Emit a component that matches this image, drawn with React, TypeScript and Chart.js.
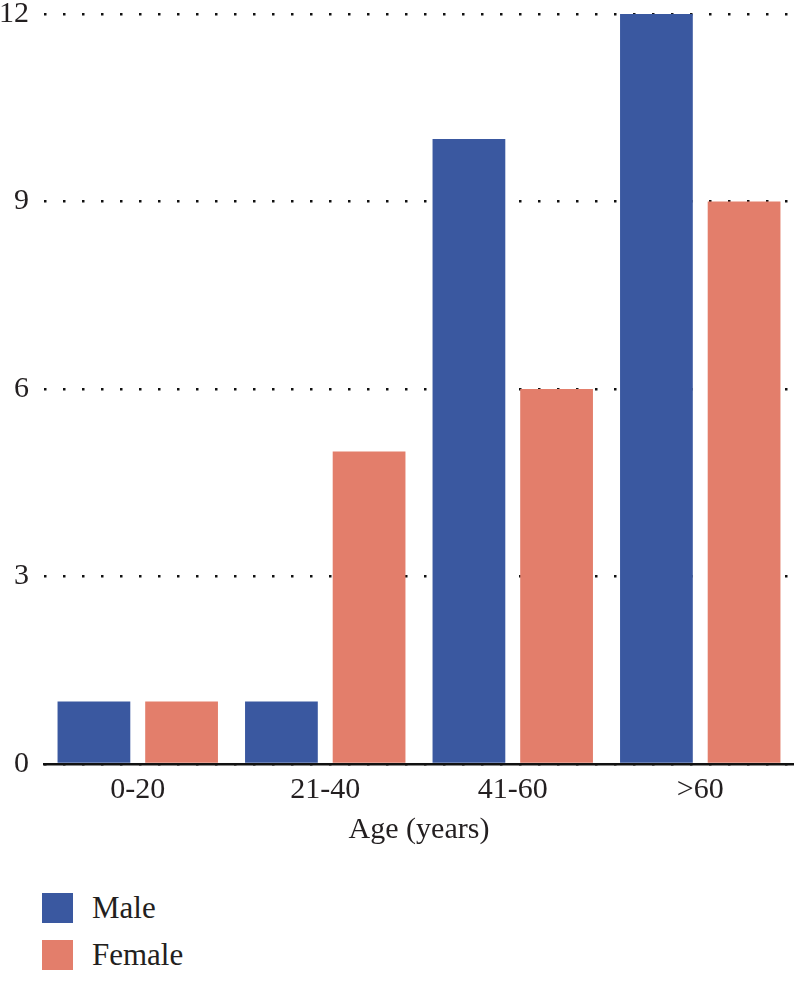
import React, { useEffect, useRef } from "react";
import { Chart, registerables } from "chart.js";

Chart.register(...registerables);

const categories = ["0-20", "21-40", "41-60", ">60"];
const maleValues = [1, 1, 10, 12];
const femaleValues = [1, 5, 6, 9];
const yTicks = [0, 3, 6, 9, 12];
const seriesNames = ["Male", "Female"];
const seriesColors = ["#3A58A0", "#E37E6B"];
const xTitle = "Age (years)";

const FONT = "'Liberation Serif', 'DejaVu Serif', serif";
const TEXT = "#231F20";

export default function App() {
  const ref = useRef<HTMLCanvasElement | null>(null);

  useEffect(() => {
    if (!ref.current) return;
    const chart = new Chart(ref.current, {
      type: "bar",
      data: {
        labels: categories,
        datasets: [
          { label: seriesNames[0], data: maleValues, backgroundColor: seriesColors[0] },
          { label: seriesNames[1], data: femaleValues, backgroundColor: seriesColors[1] },
        ],
      },
      options: {
        responsive: false,
        animation: false,
        devicePixelRatio: 1,
        layout: { padding: { top: 0, right: 0, left: 0, bottom: 0 } },
        datasets: { bar: { categoryPercentage: 0.935, barPercentage: 0.83 } },
        plugins: { legend: { display: false }, tooltip: { enabled: false } },
        scales: {
          x: {
            grid: { display: false, drawTicks: false },
            border: { display: true, color: "#111", width: 2.5 },
            ticks: { color: TEXT, font: { family: FONT, size: 30 }, padding: 8 },
            title: {
              display: true,
              text: xTitle,
              color: TEXT,
              font: { family: FONT, size: 30 },
              padding: { top: 0, bottom: 12 },
            },
            afterFit: (s: any) => {
              s.height = 96;
            },
          },
          y: {
            min: 0,
            max: 12,
            afterBuildTicks: (s: any) => {
              s.ticks = yTicks.map((v) => ({ value: v }));
            },
            grid: {
              drawTicks: false,
              color: "#111",
              lineWidth: 2.5,
            },
            border: { display: false, dash: [2.5, 16.5] },
            ticks: { color: TEXT, font: { family: FONT, size: 30 }, padding: 15 },
            afterFit: (s: any) => {
              s.width = 44;
              s.paddingTop = 14;
              s.paddingBottom = 0;
            },
          },
        },
      },
    } as any);
    return () => chart.destroy();
  }, []);

  return (
    <div style={{ position: "absolute", left: 0, top: 0, width: 794, height: 1000, background: "#fff" }}>
      <canvas ref={ref} width={794} height={860} style={{ display: "block" }} />
      <div style={{ position: "absolute", left: 42, top: 884, fontFamily: FONT, fontSize: 31, color: TEXT }}>
        {seriesNames.map((n, i) => (
          <div key={n} style={{ display: "flex", alignItems: "center", height: 47 }}>
            <div style={{ width: 31, height: 30, background: seriesColors[i], marginRight: 19 }} />
            <span>{n}</span>
          </div>
        ))}
      </div>
    </div>
  );
}
